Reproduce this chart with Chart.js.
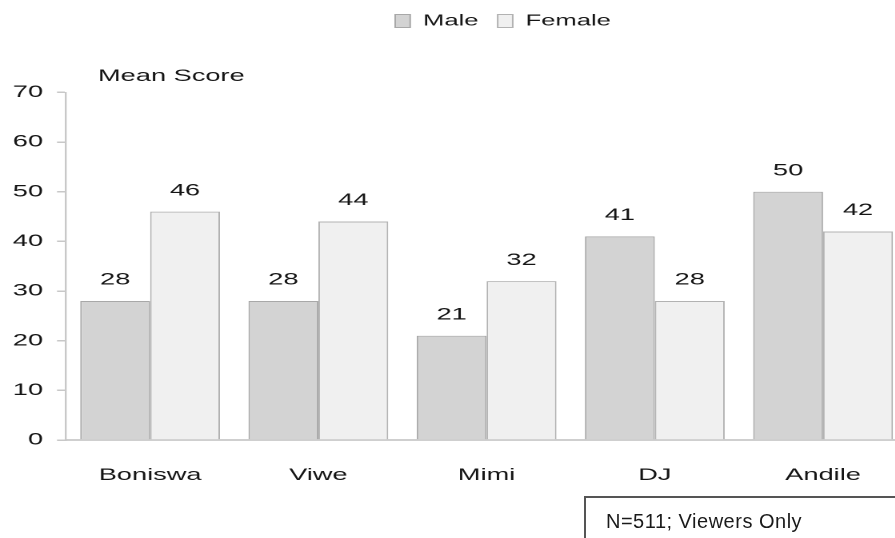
<!DOCTYPE html>
<html><head><meta charset="utf-8">
<script src="https://cdn.jsdelivr.net/npm/chart.js@4"></script>
<style>
html,body{margin:0;padding:0;background:#fff;overflow:hidden;width:895px;height:538px;}
#wrap{position:absolute;left:0;top:0;width:570px;height:538px;transform:scaleX(1.6);transform-origin:0 0;}
#note{position:absolute;left:584px;top:496px;width:340px;height:60px;border:2px solid #555;box-sizing:border-box;padding:11px 0 0 20px;font-family:"Liberation Sans",Arial,sans-serif;font-size:20px;line-height:24px;letter-spacing:0.5px;color:#1a1a1a;white-space:nowrap;}
</style></head><body>
<div id="wrap"><canvas id="c" width="570" height="538"></canvas></div>
<div id="note"></div>
<script>
const categories = ['Boniswa', 'Viwe', 'Mimi', 'DJ', 'Andile'];
const maleValues = [28, 28, 21, 41, 50];
const femaleValues = [46, 44, 32, 28, 42];
const seriesNames = ['Male', 'Female'];
const yTicks = [0, 10, 20, 30, 40, 50, 60, 70];
const axisCaption = 'Mean Score';
const noteText = 'N=511; Viewers Only';

document.getElementById('note').textContent = noteText;

const FONT = '"Liberation Sans", Arial, sans-serif';
const TEXT = '#151515';
Chart.defaults.font.family = FONT;
Chart.defaults.color = TEXT;

const valueLabels = {
  id: 'valueLabels',
  afterDatasetsDraw(chart) {
    const ctx = chart.ctx;
    ctx.save();
    ctx.font = '17px ' + FONT;
    ctx.fillStyle = TEXT;
    ctx.textAlign = 'center';
    ctx.textBaseline = 'middle';
    chart.data.datasets.forEach((ds, i) => {
      chart.getDatasetMeta(i).data.forEach((bar, j) => {
        ctx.fillText(String(ds.data[j]), bar.x, bar.y - 21);
      });
    });
    ctx.restore();
  }
};

const shiftBoxes = {
  id: 'shiftBoxes',
  afterLayout(chart) {
    const lg = chart.legend;
    if (lg) {
      const dx = 314.4 - (lg.left + lg.right) / 2;
      lg.left += dx; lg.right += dx;
    }
    const t = chart.titleBlock;
    if (t) {
      const w = t.right - t.left;
      t.left = chart.chartArea.left + 20;
      t.right = t.left + w;
    }
  }
};

new Chart(document.getElementById('c'), {
  type: 'bar',
  data: {
    labels: categories,
    datasets: [
      { label: seriesNames[0], data: maleValues, backgroundColor: '#d3d3d3', borderColor: '#a8a8a8', borderWidth: 1,
        categoryPercentage: 0.831, barPercentage: 1 },
      { label: seriesNames[1], data: femaleValues, backgroundColor: '#f0f0f0', borderColor: '#b2b2b2', borderWidth: 1,
        categoryPercentage: 0.831, barPercentage: 1 }
    ]
  },
  options: {
    responsive: false,
    devicePixelRatio: 2,
    animation: false,
    events: [],
    layout: { padding: { left: 0, right: 3, top: 1, bottom: 0 } },
    plugins: {
      tooltip: { enabled: false },
      legend: {
        position: 'top',
        labels: { boxWidth: 9.4, boxHeight: 13, padding: 12, color: TEXT, font: { size: 16 } }
      },
      title: {
        display: true,
        text: axisCaption,
        align: 'start',
        position: 'top',
        weight: 500,
        color: TEXT,
        font: { size: 17, weight: 'normal' },
        padding: { top: 27, bottom: 6 }
      }
    },
    scales: {
      x: {
        grid: { display: false },
        border: { display: true, color: '#cfcfcf', width: 2 },
        ticks: { color: TEXT, font: { size: 17 }, padding: 17 },
        afterFit(s) { s.height = 98; }
      },
      y: {
        min: yTicks[0],
        max: yTicks[yTicks.length - 1],
        ticks: { stepSize: yTicks[1] - yTicks[0], color: TEXT, font: { size: 17 }, padding: 8.7 },
        grid: { display: true, drawOnChartArea: false, drawTicks: true, tickLength: 5.6, color: '#c8c8c8', lineWidth: 1.5 },
        border: { display: true, color: '#c8c8c8', width: 1.2 },
        afterFit(s) { s.width = 41.25; }
      }
    }
  },
  plugins: [valueLabels, shiftBoxes]
});
</script>
</body></html>
